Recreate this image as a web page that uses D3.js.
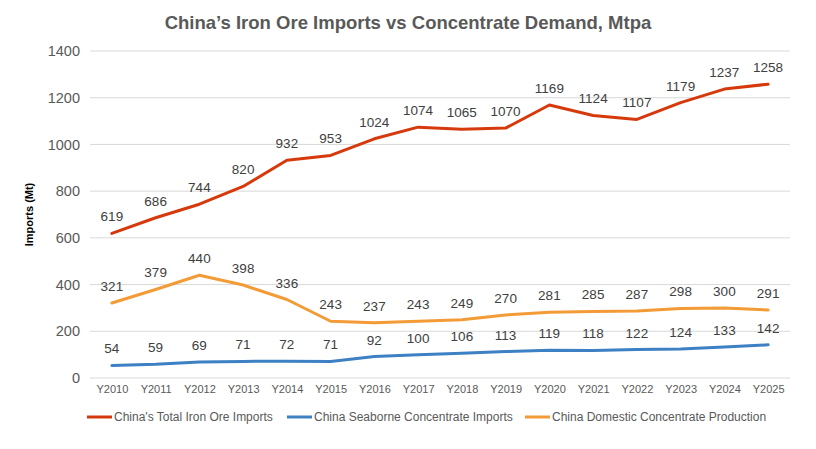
<!DOCTYPE html>
<html>
<head>
<meta charset="utf-8">
<script src="https://cdn.jsdelivr.net/npm/d3@7"></script>
<style>
  body { margin: 0; background: #fff; }
  text { font-family: Arial, "Liberation Sans", sans-serif; }
</style>
</head>
<body>
<svg id="chart" width="816" height="449"></svg>
<script>
// chart data
var years = ['Y2010', 'Y2011', 'Y2012', 'Y2013', 'Y2014', 'Y2015', 'Y2016', 'Y2017',
  'Y2018', 'Y2019', 'Y2020', 'Y2021', 'Y2022', 'Y2023', 'Y2024', 'Y2025'];
var totalImports = [619, 686, 744, 820, 932, 953, 1024, 1074, 1065, 1070, 1169, 1124, 1107, 1179, 1237, 1258];
var seaborneImports = [54, 59, 69, 71, 72, 71, 92, 100, 106, 113, 119, 118, 122, 124, 133, 142];
var domesticProduction = [321, 379, 440, 398, 336, 243, 237, 243, 249, 270, 281, 285, 287, 298, 300, 291];
var yTicks = [0, 200, 400, 600, 800, 1000, 1200, 1400];
var seriesNames = ["China's Total Iron Ore Imports", 'China Seaborne Concentrate Imports', 'China Domestic Concentrate Production'];
var seriesColors = ['#D63A0C', '#3D80C3', '#F39B36'];

var svg = d3.select('#chart');
var plotLeft = 90, plotRight = 790, plotTop = 51, plotBottom = 378;

var x = d3.scalePoint().domain(years).range([plotLeft, plotRight]).padding(0.5);
var y = d3.scaleLinear().domain([0, 1400]).range([plotBottom, plotTop]);

// title
svg.append('text')
  .attr('x', 408).attr('y', 29)
  .attr('text-anchor', 'middle')
  .style('font-size', '18.5px').style('font-weight', 'bold')
  .attr('fill', '#595959')
  .text('China\u2019s Iron Ore Imports vs Concentrate Demand, Mtpa');

// gridlines
svg.append('g').selectAll('line').data(yTicks).enter().append('line')
  .attr('x1', plotLeft).attr('x2', plotRight)
  .attr('y1', function(d) { return y(d); })
  .attr('y2', function(d) { return y(d); })
  .attr('stroke', '#d9d9d9').attr('stroke-width', 1);

// y axis
var yAxis = svg.append('g')
  .attr('transform', 'translate(' + (plotLeft - 10) + ',0)')
  .call(d3.axisLeft(y).tickValues(yTicks).tickFormat(d3.format('d')).tickSize(0).tickPadding(0));
yAxis.select('.domain').remove();
yAxis.selectAll('text').style('font-size', '14.5px').attr('fill', '#595959');

// x axis
var xAxis = svg.append('g')
  .attr('transform', 'translate(0,' + (plotBottom + 7) + ')')
  .call(d3.axisBottom(x).tickSize(0).tickPadding(0));
xAxis.select('.domain').remove();
xAxis.selectAll('text').style('font-size', '11px').attr('fill', '#595959');

// y axis title
svg.append('text')
  .attr('transform', 'translate(33,' + ((plotTop + plotBottom) / 2) + ') rotate(-90)')
  .attr('text-anchor', 'middle')
  .style('font-size', '11px').style('font-weight', 'bold')
  .attr('fill', '#000')
  .text('Imports (Mt)');

var line = d3.line()
  .x(function(d, i) { return x(years[i]); })
  .y(function(d) { return y(d); });

var allSeries = [totalImports, seaborneImports, domesticProduction];

allSeries.forEach(function(values, s) {
  svg.append('path')
    .datum(values)
    .attr('d', line)
    .attr('fill', 'none')
    .attr('stroke', seriesColors[s])
    .attr('stroke-width', 3)
    .attr('stroke-linejoin', 'round')
    .attr('stroke-linecap', 'round');

  svg.append('g').selectAll('text').data(values).enter().append('text')
    .attr('x', function(d, i) { return x(years[i]); })
    .attr('y', function(d) { return y(d) - 12; })
    .attr('text-anchor', 'middle')
    .style('font-size', '13.5px')
    .attr('fill', '#404040')
    .text(function(d) { return d; });
});

// legend
var legendX = [87, 287, 525];
var legend = svg.append('g');
seriesNames.forEach(function(name, s) {
  legend.append('line')
    .attr('x1', legendX[s]).attr('x2', legendX[s] + 25)
    .attr('y1', 417).attr('y2', 417)
    .attr('stroke', seriesColors[s]).attr('stroke-width', 3);
  legend.append('text')
    .attr('x', legendX[s] + 27).attr('y', 421)
    .style('font-size', '12px')
    .attr('fill', '#595959')
    .text(name);
});
</script>
</body>
</html>
